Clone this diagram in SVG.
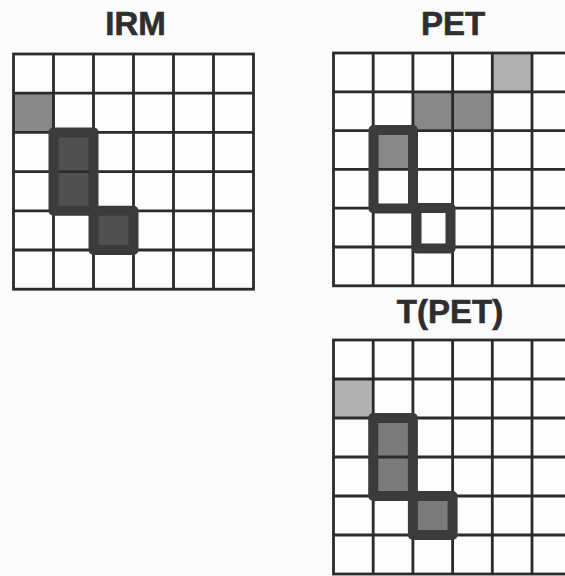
<svg xmlns="http://www.w3.org/2000/svg" width="565" height="576" viewBox="0 0 565 576">
<style>
.bg{fill:#fbfbfb}
.cell{fill:#fdfdfd}
.g{stroke:#2b2b2b;stroke-width:2.8;fill:none}
.lt{fill:#b0b0b0}
.md{fill:#888}
.dk{fill:#505050}
.hl{fill:#7a7a7a}
.ol{fill:none;stroke:#3b3b3b;stroke-width:10;stroke-linejoin:round}
.t{font-family:"Liberation Sans",Arial,sans-serif;font-weight:bold;font-size:33px;fill:#2e2e2e;stroke:#2e2e2e;stroke-width:0.6;text-anchor:middle}
</style>
<rect class="bg" x="0" y="0" width="565" height="576"/>

<g id="irm">
<text class="t" x="135.5" y="35">IRM</text>
<rect class="cell" x="13.5" y="54" width="240" height="235.2"/>
<rect class="md" x="13.5" y="93.2" width="40" height="39.2"/>
<rect class="dk" x="53.5" y="132.4" width="40" height="78.4"/>
<rect class="dk" x="93.5" y="210.8" width="40" height="39.2"/>
<path class="g" d="M53.5 54V289.2M93.5 54V289.2M133.5 54V289.2M173.5 54V289.2M213.5 54V289.2M13.5 93.2H253.5M13.5 132.4H253.5M13.5 171.6H253.5M13.5 210.8H253.5M13.5 250H253.5"/>
<rect class="g" x="13.5" y="54" width="240" height="235.2"/>
<rect class="ol" x="53.5" y="132.4" width="40" height="78.4"/>
<rect class="ol" x="93.5" y="210.8" width="40" height="39.2"/>
</g>

<g id="pet">
<text class="t" x="453" y="35">PET</text>
<rect class="cell" x="333.5" y="53" width="238.2" height="232.8"/>
<rect class="lt" x="492.3" y="53" width="39.7" height="38.8"/>
<rect class="md" x="412.9" y="91.8" width="79.4" height="38.8"/>
<rect class="md" x="373.2" y="130.6" width="39.7" height="38.8"/>
<path class="g" d="M373.2 53V285.8M412.9 53V285.8M452.6 53V285.8M492.3 53V285.8M532 53V285.8M333.5 91.8H571.7M333.5 130.6H571.7M333.5 169.4H571.7M333.5 208.2H571.7M333.5 247H571.7"/>
<rect class="g" x="333.5" y="53" width="238.2" height="232.8"/>
<rect class="ol" x="373.5" y="130" width="39.5" height="78.5"/>
<rect class="ol" x="416.5" y="208" width="34" height="40.5"/>
</g>

<g id="tpet">
<text class="t" x="450" y="323">T(PET)</text>
<rect class="cell" x="333.5" y="340" width="238.2" height="234"/>
<rect class="lt" x="333.5" y="379" width="39.7" height="39"/>
<rect class="hl" x="373.2" y="418" width="39.7" height="78"/>
<rect class="hl" x="412.9" y="496" width="39.7" height="39"/>
<path class="g" d="M373.2 340V574M412.9 340V574M452.6 340V574M492.3 340V574M532 340V574M333.5 379H571.7M333.5 418H571.7M333.5 457H571.7M333.5 496H571.7M333.5 535H571.7"/>
<rect class="g" x="333.5" y="340" width="238.2" height="234"/>
<rect class="ol" x="373.2" y="418" width="39.7" height="78"/>
<rect class="ol" x="412.9" y="496" width="39.7" height="39"/>
</g>
</svg>
